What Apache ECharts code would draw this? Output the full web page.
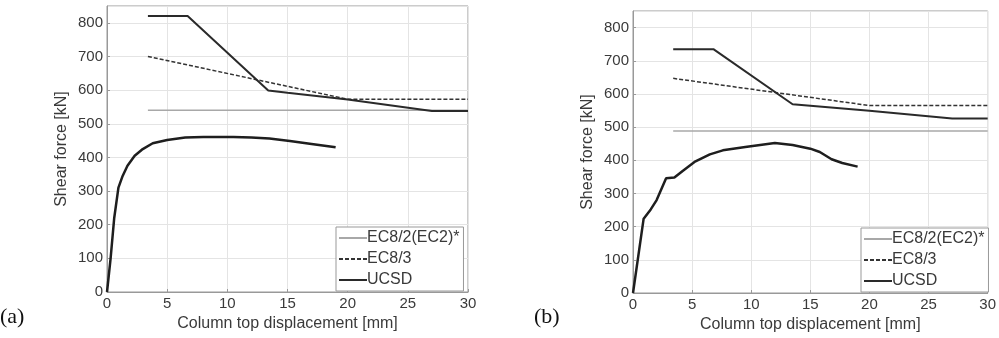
<!DOCTYPE html>
<html><head><meta charset="utf-8">
<script src="https://cdn.jsdelivr.net/npm/echarts@6/dist/echarts.min.js"></script>
<style>html,body{margin:0;padding:0;background:#fff}#c{width:999px;height:338px}</style>
</head><body><div id="c"></div>
<script>
// Panel (a)
const a_ec82_x = [3.4, 30];
const a_ec82_y = [540, 540];
const a_ec83_x = [3.4, 20, 30];
const a_ec83_y = [700, 573, 573];
const a_cap_x = [3.4, 6.7, 13.4, 15, 20, 27, 30];
const a_cap_y = [820, 820, 599, 592, 572, 538, 538];
const a_exp_x = [0, 0.3, 0.6, 0.95, 1.3, 1.7, 2.3, 2.9, 3.8, 5, 6.5, 8, 10.5, 12, 13.5, 15.2, 17, 19];
const a_exp_y = [0, 100, 220, 310, 345, 375, 405, 423, 442, 452, 459, 461, 461, 459, 456, 449, 440, 430];
// Panel (b)
const b_ec82_x = [3.4, 30];
const b_ec82_y = [488, 488];
const b_ec83_x = [3.4, 20, 30];
const b_ec83_y = [647, 565, 565];
const b_cap_x = [3.4, 6.8, 13.5, 20, 27, 30];
const b_cap_y = [735, 735, 569, 549, 526, 526];
const b_exp_x = [0, 0.9, 1.5, 2.0, 2.8, 3.5, 4.2, 5.2, 6.5, 7.6, 9.5, 12, 13.5, 15, 15.8, 16.8, 17.7, 19];
const b_exp_y = [0, 224, 252, 280, 346, 348, 368, 395, 418, 430, 440, 452, 446, 435, 425, 403, 392, 381];

const xTicks = [0, 5, 10, 15, 20, 25, 30];
const yTicks = [0, 100, 200, 300, 400, 500, 600, 700, 800];
const seriesNames = ['EC8/2(EC2)*', 'EC8/3', 'UCSD'];
const xName = 'Column top displacement [mm]';
const yName = 'Shear force [kN]';

const pairs = (xs, ys) => xs.map((x, i) => [x, ys[i]]);
const F = 'Liberation Sans, Arial, sans-serif';
const txt = '#3a3a3a';

function xAx(gi) {
  return {
    gridIndex: gi, type: 'value', min: 0, max: 30, interval: 5,
    name: xName, nameLocation: 'middle', nameGap: 19,
    nameTextStyle: {fontFamily: F, fontSize: 16, color: txt},
    axisLine: {show: true, lineStyle: {color: '#999'}},
    axisTick: {show: true, inside: true, length: 3, lineStyle: {color: '#999'}},
    axisLabel: {fontFamily: F, fontSize: 15, color: txt, margin: 4,
      formatter: v => xTicks.includes(v) ? String(v) : ''},
    splitLine: {show: true, lineStyle: {color: '#e4e4e4', width: 1}}
  };
}
function yAx(gi) {
  return {
    gridIndex: gi, type: 'value', min: 0, max: 850, interval: 100,
    name: yName, nameLocation: 'middle', nameGap: 37,
    nameTextStyle: {fontFamily: F, fontSize: 16, color: txt},
    axisLine: {show: true, lineStyle: {color: '#999'}},
    axisTick: {show: true, inside: true, length: 3, lineStyle: {color: '#999'}},
    axisLabel: {fontFamily: F, fontSize: 15, color: txt, margin: 4, showMaxLabel: false,
      formatter: v => yTicks.includes(v) ? String(v) : ''},
    splitLine: {show: true, lineStyle: {color: '#e4e4e4', width: 1}}
  };
}
function mkSeries(gi, ec82, ec83, cap, exp) {
  return [
    {name: seriesNames[0], type: 'line', xAxisIndex: gi, yAxisIndex: gi, data: ec82, symbol: 'none',
      lineStyle: {color: '#a8a8a8', width: 1.5}, itemStyle: {color: '#a8a8a8'}, silent: true, z: 2},
    {name: seriesNames[1], type: 'line', xAxisIndex: gi, yAxisIndex: gi, data: ec83, symbol: 'none',
      lineStyle: {color: '#333', width: 1.5, type: [4, 2]}, itemStyle: {color: '#333'}, silent: true, z: 3},
    {name: seriesNames[2], type: 'line', xAxisIndex: gi, yAxisIndex: gi, data: cap, symbol: 'none',
      lineStyle: {color: '#2a2a2a', width: 2}, itemStyle: {color: '#2a2a2a'}, silent: true, z: 4},
    {name: seriesNames[2], type: 'line', xAxisIndex: gi, yAxisIndex: gi, data: exp, symbol: 'none',
      lineStyle: {color: '#1e1e1e', width: 2.5}, itemStyle: {color: '#1e1e1e'}, silent: true, z: 4}
  ];
}
function legend(left, top) {
  return {
    data: seriesNames, orient: 'vertical', left: left, top: top,
    itemWidth: 28, itemHeight: 14, itemGap: 5,
    padding: [3, 4, 3, 2], borderColor: '#999', borderWidth: 1, backgroundColor: '#fff',
    itemStyle: {opacity: 0},
    textStyle: {fontFamily: F, fontSize: 16, color: txt, padding: [0, 0, 0, -5]},
    selectedMode: false
  };
}

const chart = echarts.init(document.getElementById('c'), null, {renderer: 'canvas'});
chart.setOption({
  animation: false,
  backgroundColor: '#fff',
  grid: [
    {left: 107, top: 6, width: 361, height: 286, show: true, borderColor: '#999', borderWidth: 1},
    {left: 633, top: 11, width: 358, height: 282, show: true, borderColor: '#999', borderWidth: 1}
  ],
  xAxis: [xAx(0), xAx(1)],
  yAxis: [yAx(0), yAx(1)],
  legend: [legend(336, 227), legend(861, 228)],
  series: [
    ...mkSeries(0, pairs(a_ec82_x, a_ec82_y), pairs(a_ec83_x, a_ec83_y), pairs(a_cap_x, a_cap_y), pairs(a_exp_x, a_exp_y)),
    ...mkSeries(1, pairs(b_ec82_x, b_ec82_y), pairs(b_ec83_x, b_ec83_y), pairs(b_cap_x, b_cap_y), pairs(b_exp_x, b_exp_y))
  ],
  graphic: [
    {type: 'text', left: 0, top: 306, style: {text: '(a)', font: '22px "Liberation Serif", "Times New Roman", serif', fill: '#111'}},
    {type: 'text', left: 534, top: 306, style: {text: '(b)', font: '22px "Liberation Serif", "Times New Roman", serif', fill: '#111'}}
  ]
});
</script></body></html>
